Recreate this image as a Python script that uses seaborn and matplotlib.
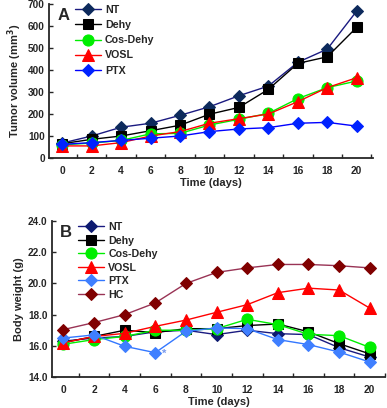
import matplotlib
matplotlib.use("Agg")
import matplotlib.pyplot as plt
import matplotlib.ticker as mticker
import seaborn as sns
import pandas as pd
import numpy as np

days = [0, 2, 4, 6, 8, 10, 12, 14, 16, 18, 20]

# Panel A: tumor volume (mm^3)
vol_NT = [68, 100, 140, 158, 194, 233, 283, 327, 435, 495, 668]
vol_Dehy = [65, 85, 100, 124, 149, 199, 230, 312, 430, 460, 594]
vol_Cos = [60, 68, 80, 110, 112, 150, 176, 203, 270, 320, 350]
vol_VOSL = [55, 55, 70, 100, 120, 158, 179, 200, 256, 320, 365]
vol_PTX = [62, 70, 80, 90, 100, 120, 132, 138, 158, 162, 145]

# Panel B: body weight (g)
bw_NT = [16.3, 16.5, 16.6, 16.9, 17.0, 16.72, 17.0, 16.78, 16.72, 15.88, 15.28]
bw_Dehy = [16.2, 16.6, 17.0, 16.85, 17.1, 17.1, 17.3, 17.4, 16.9, 16.14, 15.48]
bw_Cos = [16.1, 16.4, 16.6, 17.0, 17.0, 17.1, 17.7, 17.36, 16.74, 16.65, 15.9]
bw_VOSL = [16.2, 16.6, 16.8, 17.25, 17.65, 18.15, 18.64, 19.41, 19.7, 19.58, 18.42]
bw_PTX = [16.5, 16.7, 15.97, 15.56, 16.93, 17.15, 17.1, 16.4, 16.08, 15.6, 14.96]
bw_HC = [17.04, 17.49, 18.0, 18.75, 20.0, 20.71, 21.0, 21.22, 21.22, 21.14, 21.0]

groups_A = ["NT", "Dehy", "Cos-Dehy", "VOSL", "PTX"]
groups_B = ["NT", "Dehy", "Cos-Dehy", "VOSL", "PTX", "HC"]

line_colors_A = {"NT": "#1a1a80", "Dehy": "#000000", "Cos-Dehy": "#00ee00",
                 "VOSL": "#ff0000", "PTX": "#0000ff"}
marker_colors_A = {"NT": "#0d2a5c", "Dehy": "#000000", "Cos-Dehy": "#00ee00",
                   "VOSL": "#ff0000", "PTX": "#0022ff"}
line_colors_B = {"NT": "#1a1a80", "Dehy": "#000000", "Cos-Dehy": "#00ee00",
                 "VOSL": "#ff0000", "PTX": "#3377ff", "HC": "#993355"}
marker_colors_B = {"NT": "#0d1a70", "Dehy": "#000000", "Cos-Dehy": "#00ee00",
                   "VOSL": "#ff0000", "PTX": "#3f7fff", "HC": "#800000"}
markers = {"NT": "D", "Dehy": "s", "Cos-Dehy": "o", "VOSL": "^", "PTX": "D", "HC": "D"}
msizes = {"NT": 6, "Dehy": 7.5, "Cos-Dehy": 8, "VOSL": 8, "PTX": 6.5, "HC": 6}

dfA = pd.DataFrame({
    "day": days * 5,
    "val": vol_NT + vol_Dehy + vol_Cos + vol_VOSL + vol_PTX,
    "group": sum([[g] * len(days) for g in groups_A], []),
})
dfB = pd.DataFrame({
    "day": days * 6,
    "val": bw_NT + bw_Dehy + bw_Cos + bw_VOSL + bw_PTX + bw_HC,
    "group": sum([[g] * len(days) for g in groups_B], []),
})

sns.set_style("ticks")
plt.rcParams["font.family"] = ["Liberation Sans", "DejaVu Sans"]
plt.rcParams["font.weight"] = "bold"
plt.rcParams["axes.labelweight"] = "bold"

fig = plt.figure(figsize=(3.87, 4.08), dpi=100)
axA = fig.add_axes([0.1266, 0.6127, 0.837, 0.3775])
axB = fig.add_axes([0.134, 0.076, 0.861, 0.382])


def draw(ax, df, groups, lc, mc, ylabel, letter):
    for g in groups:
        sub = df[df["group"] == g]
        sns.lineplot(data=sub, x="day", y="val", ax=ax, color=lc[g],
                     marker=markers[g], markersize=msizes[g],
                     markerfacecolor=mc[g], markeredgecolor=mc[g],
                     linewidth=1.0, label=g, sort=False)
    ax.set_xlabel("Time (days)", fontsize=8, fontweight="bold", labelpad=1)
    ax.set_ylabel(ylabel, fontsize=8, fontweight="bold", labelpad=3)
    ax.set_xticks(days)
    ax.set_xticks(np.arange(1, 22, 2), minor=True)
    ax.tick_params(axis="x", which="major", length=0, labelsize=7.4, pad=6)
    ax.tick_params(axis="x", which="minor", length=3, direction="in", width=1)
    ax.tick_params(axis="y", which="major", length=3, direction="in", width=1,
                   labelsize=7.2, pad=3)
    for s in ["left", "bottom"]:
        ax.spines[s].set_linewidth(1.3)
    sns.despine(ax=ax)
    leg = ax.legend(loc="upper left", bbox_to_anchor=(0.06, 1.035), frameon=False,
                    fontsize=7.7, handlelength=2.4, handletextpad=0.4,
                    labelspacing=0.48 if letter == "A" else 0.33,
                    borderaxespad=0.2)
    for t in leg.get_texts():
        t.set_fontweight("bold")
    ax.text(0.025, 0.925, letter, transform=ax.transAxes, fontsize=12,
            fontweight="bold", va="center", ha="left")


draw(axA, dfA, groups_A, line_colors_A, marker_colors_A,
     "Tumor volume (mm$\\mathbf{^3}$)", "A")
axA.set_xlim(-0.9, 21.1)
axA.set_ylim(0, 700)
axA.set_yticks(np.arange(0, 701, 100))

draw(axB, dfB, groups_B, line_colors_B, marker_colors_B, "Body weight (g)", "B")
axB.set_xlim(-0.75, 21.0)
axB.set_ylim(14, 24)
axB.set_yticks(np.arange(14, 24.1, 2))
axB.yaxis.set_major_formatter(mticker.FormatStrFormatter("%.1f"))
axB.text(6.6, 15.5, "*", color="#7799ee", fontsize=8, ha="center", va="center")

fig.savefig("out.png", dpi=100)
